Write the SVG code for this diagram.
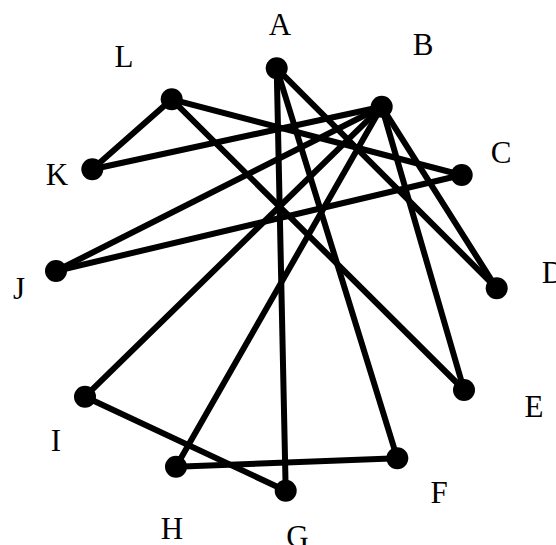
<svg xmlns="http://www.w3.org/2000/svg" width="556" height="545" viewBox="0 0 556 545">
<style>
.e{stroke:#000;stroke-width:6;stroke-linecap:round;fill:none}
.n{fill:#000}
.t{font-family:"Liberation Serif","Times New Roman",serif;font-size:31px;fill:#000;text-anchor:middle}
</style>
<rect width="556" height="545" fill="#fff"/>
<g id="edges">
<line class="e" x1="276.7" y1="68.3" x2="285.7" y2="490.7"/>
<line class="e" x1="276.7" y1="68.3" x2="397.3" y2="458.3"/>
<line class="e" x1="276.7" y1="68.3" x2="496.7" y2="288.3"/>
<line class="e" x1="381.7" y1="106.7" x2="92.3" y2="169.3"/>
<line class="e" x1="381.7" y1="106.7" x2="56" y2="271"/>
<line class="e" x1="381.7" y1="106.7" x2="85" y2="396.7"/>
<line class="e" x1="381.7" y1="106.7" x2="176" y2="466.7"/>
<line class="e" x1="381.7" y1="106.7" x2="496.7" y2="288.3"/>
<line class="e" x1="381.7" y1="106.7" x2="464" y2="390"/>
<line class="e" x1="171.7" y1="99.3" x2="92.3" y2="169.3"/>
<line class="e" x1="171.7" y1="99.3" x2="461.7" y2="175"/>
<line class="e" x1="171.7" y1="99.3" x2="464" y2="390"/>
<line class="e" x1="461.7" y1="175" x2="56" y2="271"/>
<line class="e" x1="85" y1="396.7" x2="285.7" y2="490.7"/>
<line class="e" x1="176" y1="466.7" x2="397.3" y2="458.3"/>
</g>
<g id="A"><circle class="n" cx="276.7" cy="68.3" r="11"/><text class="t" x="280" y="35">A</text></g>
<g id="B"><circle class="n" cx="381.7" cy="106.7" r="11"/><text class="t" x="423" y="55">B</text></g>
<g id="C"><circle class="n" cx="461.7" cy="175" r="11"/><text class="t" x="501" y="163">C</text></g>
<g id="D"><circle class="n" cx="496.7" cy="288.3" r="11"/><text class="t" x="553" y="283">D</text></g>
<g id="E"><circle class="n" cx="464" cy="390" r="11"/><text class="t" x="534" y="417">E</text></g>
<g id="F"><circle class="n" cx="397.3" cy="458.3" r="11"/><text class="t" x="439" y="503">F</text></g>
<g id="G"><circle class="n" cx="285.7" cy="490.7" r="11"/><text class="t" x="297.5" y="547">G</text></g>
<g id="H"><circle class="n" cx="176" cy="466.7" r="11"/><text class="t" x="172" y="539">H</text></g>
<g id="I"><circle class="n" cx="85" cy="396.7" r="11"/><text class="t" x="56" y="451">I</text></g>
<g id="J"><circle class="n" cx="56" cy="271" r="11"/><text class="t" x="19" y="299">J</text></g>
<g id="K"><circle class="n" cx="92.3" cy="169.3" r="11"/><text class="t" x="57" y="185">K</text></g>
<g id="L"><circle class="n" cx="171.7" cy="99.3" r="11"/><text class="t" x="124" y="67">L</text></g>
</svg>
